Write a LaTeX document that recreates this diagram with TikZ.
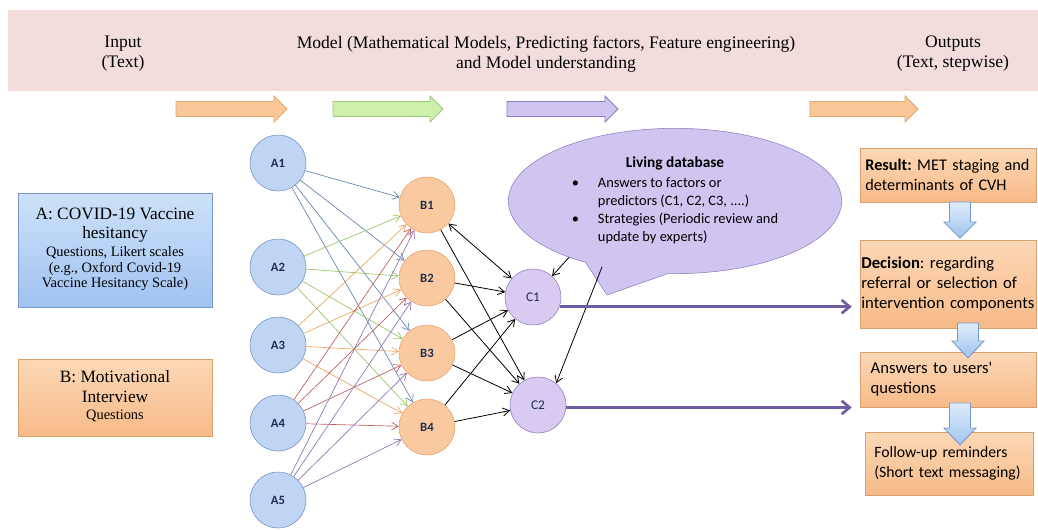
\documentclass[tikz,border=0pt]{standalone}
\usepackage{fontspec}
\setmainfont{Liberation Serif}
\newfontfamily\calibri{Carlito}
\usetikzlibrary{positioning, arrows.meta, shapes.geometric, shapes.callouts}

\definecolor{bandpink}{RGB}{242,221,220}
\definecolor{anodefill}{RGB}{192,213,243}
\definecolor{anodeline}{RGB}{110,140,190}
\definecolor{bnodefill}{RGB}{250,201,160}
\definecolor{bnodeline}{RGB}{225,160,110}
\definecolor{cnodefill}{RGB}{216,202,240}
\definecolor{cnodeline}{RGB}{140,120,190}
\definecolor{nodetext}{RGB}{30,45,80}
\definecolor{orangefill}{RGB}{250,200,152}
\definecolor{orangeline}{RGB}{225,165,110}
\definecolor{greenfill}{RGB}{205,240,170}
\definecolor{greenline}{RGB}{160,200,125}
\definecolor{purplefill}{RGB}{208,196,240}
\definecolor{purpleline}{RGB}{140,125,190}
\definecolor{bluetop}{RGB}{205,225,249}
\definecolor{bluebot}{RGB}{160,195,240}
\definecolor{blueline}{RGB}{120,150,200}
\definecolor{outtop}{RGB}{252,216,182}
\definecolor{outbot}{RGB}{247,186,136}
\definecolor{outline}{RGB}{215,160,110}
\definecolor{downtop}{RGB}{222,236,251}
\definecolor{downbot}{RGB}{160,196,238}
\definecolor{downline}{RGB}{120,155,205}
\definecolor{longarrow}{RGB}{112,92,160}
\definecolor{edgea}{RGB}{100,130,175}
\definecolor{edgeb}{RGB}{150,198,100}
\definecolor{edgec}{RGB}{235,165,90}
\definecolor{edged}{RGB}{195,90,95}
\definecolor{edgee}{RGB}{145,115,180}

\begin{document}
\begin{tikzpicture}[x=0.75pt, y=-0.75pt,
        anode/.style={circle, draw=anodeline, fill=anodefill, minimum size=42pt, inner sep=0pt, text=nodetext, font=\calibri\bfseries\fontsize{9.5}{10}\selectfont},
        bnode/.style={anode, draw=bnodeline, fill=bnodefill},
        cnode/.style={anode, draw=cnodeline, fill=cnodefill, font=\calibri\fontsize{10}{10}\selectfont},
        inbox/.style={rectangle, draw, minimum width=145.5pt, inner sep=2pt},
        outbox/.style={rectangle, draw=outline, top color=outtop, bottom color=outbot, minimum width=132pt, text width=124pt, inner xsep=4pt, align=left, font=\calibri\frenchspacing\fontsize{12.5}{15}\selectfont},
        headtext/.style={align=center, font=\fontsize{13.2}{15}\selectfont},
        link/.style={-{Straight Barb[length=5pt, width=6pt]}, line width=0.5pt},
        blink/.style={link, black, line width=0.6pt},
        bigarrow/.style={-{Straight Barb[length=6pt, width=10pt]}, line width=2pt, draw=longarrow},
        blockarrow/.style={line width=0.6pt}
    ]
    \useasboundingbox (0,0) rectangle (1038,529);

    % header band
    \fill[bandpink] (8,10) rectangle (1038,91);
    \node[headtext] (hinput) at (123,54) {Input\\(Text)};
    \node[headtext] (hmodel) at (546,54) {Model (Mathematical Models, Predicting factors, Feature engineering)\\and Model understanding};
    \node[headtext] (houtput) at (953,54) {Outputs\\(Text, stepwise)};

    % block arrows under the header
    \filldraw[blockarrow, fill=orangefill, draw=orangeline] (176,101.5) -- (274,101.5) -- (274,96) -- (287,109) -- (274,122) -- (274,116.5) -- (176,116.5) -- cycle;
    \filldraw[blockarrow, fill=greenfill, draw=greenline] (333,101.5) -- (430,101.5) -- (430,96) -- (443,109) -- (430,122) -- (430,116.5) -- (333,116.5) -- cycle;
    \filldraw[blockarrow, fill=purplefill, draw=purpleline] (507,101.5) -- (605,101.5) -- (605,96) -- (618,109) -- (605,122) -- (605,116.5) -- (507,116.5) -- cycle;
    \filldraw[blockarrow, fill=orangefill, draw=orangeline] (810,101.5) -- (905,101.5) -- (905,96) -- (918,109) -- (905,122) -- (905,116.5) -- (810,116.5) -- cycle;

    % input boxes
    \node[inbox, draw=blueline, top color=bluetop, bottom color=bluebot, minimum height=85.5pt] (boxa) at (115,250)
        {\begin{tabular}{@{}c@{}}
         \fontsize{13}{14.5}\selectfont A: COVID-19 Vaccine\\[2.25pt]
         \fontsize{13}{14.5}\selectfont hesitancy\\[1.5pt]
         \fontsize{10.8}{11}\selectfont Questions, Likert scales\\[-0.5pt]
         \fontsize{10.8}{11}\selectfont (e.g., Oxford Covid-19\\[-0.5pt]
         \fontsize{10.8}{11}\selectfont Vaccine Hesitancy Scale)
         \end{tabular}};
    \node[inbox, draw=outline, top color=outtop, bottom color=outbot, minimum height=57.75pt] (boxb) at (115,397.5)
        {\begin{tabular}{@{}c@{}}
         \fontsize{13}{14.5}\selectfont B: Motivational\\[2.25pt]
         \fontsize{13}{14.5}\selectfont Interview\\[1pt]
         \fontsize{10.8}{11}\selectfont Questions
         \end{tabular}};

    % network
    \node[anode] (a1) at (278,163) {A1};
    \node[anode] (a2) at (278,267) {A2};
    \node[anode] (a3) at (278,345) {A3};
    \node[anode] (a4) at (278,423) {A4};
    \node[anode] (a5) at (278,500) {A5};
    \node[bnode] (b1) at (427,205) {B1};
    \node[bnode] (b2) at (427,278) {B2};
    \node[bnode] (b3) at (427,353) {B3};
    \node[bnode] (b4) at (427,427) {B4};
    \node[cnode] (c1) at (533,297) {C1};
    \node[cnode] (c2) at (538,405) {C2};

    \foreach \i/\col in {1/edgea, 2/edgeb, 3/edgec, 4/edged, 5/edgee}
        \foreach \j in {1,...,4}
            \draw[link, \col] (a\i) -- (b\j);

    \draw[blink, {Straight Barb[length=5pt, width=6pt]}-{Straight Barb[length=5pt, width=6pt]}] (b1) -- (c1);
    \draw[blink] (b1) -- (c2);
    \foreach \j in {2,3,4}
        \foreach \k in {1,2}
            \draw[blink] (b\j) -- (c\k);

    % living database
    \node[ellipse callout, draw=purpleline, fill=purplefill, minimum width=250pt, minimum height=109pt,
          callout absolute pointer={(607,295)}, callout pointer arc=30, inner sep=0pt,
          font=\calibri\fontsize{10.8}{13.5}\selectfont] (db) at (675,201)
        {\begin{tabular}{@{}p{19.5pt}@{}l@{}}
         \multicolumn{2}{c}{\fontsize{11.5}{13.5}\selectfont\bfseries Living database}\\[2pt]
         \textbullet & Answers to factors or\\
                     & predictors (C1, C2, C3, ....)\\
         \textbullet & Strategies (Periodic review and\\
                     & update by experts)
         \end{tabular}};
    \draw[blink] (db.208) -- (c1);
    \draw[blink] (db.222) -- (c2.50);

    % outputs
    \node[outbox, minimum height=40.5pt, font=\calibri\frenchspacing\fontsize{12.2}{14.5}\selectfont] (result) at (948,175) {\textbf{Result:} MET staging and\\determinants of CVH};
    \node[outbox, minimum height=66pt, text width=130pt, inner xsep=1pt] (decision) at (948,284) {\textbf{Decision}: regarding\\referral or selection of\\intervention components};
    \node[outbox, minimum height=41.25pt, inner xsep=8pt, text width=116pt] (answers) at (948,379.5) {Answers to users'\\questions};
    \node[outbox, minimum width=126pt, text width=112pt, inner xsep=7pt, minimum height=47.25pt, font=\calibri\frenchspacing\fontsize{11.8}{15}\selectfont] (followup) at (949,463.5) {Follow-up reminders\\(Short text messaging)};

    \filldraw[blockarrow, draw=downline, top color=downtop, bottom color=downbot] (949.5,202) -- (970.5,202) -- (970.5,222) -- (976,222) -- (960,238) -- (944,222) -- (949.5,222) -- cycle;
    \filldraw[blockarrow, draw=downline, top color=downtop, bottom color=downbot] (957.5,323) -- (978.5,323) -- (978.5,341) -- (984,341) -- (968,358) -- (952,341) -- (957.5,341) -- cycle;
    \filldraw[blockarrow, draw=downline, top color=downtop, bottom color=downbot] (949.5,403) -- (970.5,403) -- (970.5,428) -- (976,428) -- (960,445) -- (944,428) -- (949.5,428) -- cycle;

    \draw[bigarrow, shorten >=6pt] (c1.-20) -- (c1.-20 -| decision.west);
    \draw[bigarrow, shorten >=6pt] (c2.-5) -- (c2.-5 -| answers.west);
\end{tikzpicture}
\end{document}
